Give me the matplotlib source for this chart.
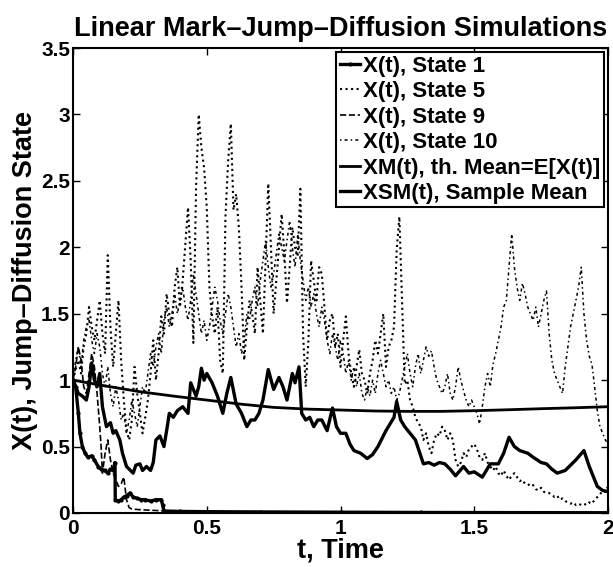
import numpy as np
import matplotlib.pyplot as plt

# time grid used for the two dense dotted states (0.01 steps)
t_grid = np.round(np.arange(0, 2.001, 0.01), 2)

# X(t), State 5 (dotted), read every 0.01
state5 = [
    1.00, 1.08, 1.15, 1.05, 1.25, 1.35, 1.55, 1.40, 1.30, 1.45,
    1.60, 1.35, 1.20, 1.94, 1.40, 1.10, 1.35, 1.60, 1.15, 0.85,
    0.62, 0.55, 0.70, 1.10, 0.90, 0.75, 0.60, 0.72, 0.85, 1.05,
    1.30, 1.00, 1.20, 1.48, 1.35, 1.65, 1.50, 1.40, 1.70, 1.85,
    1.55, 1.75, 2.03, 2.30, 1.90, 1.28, 2.45, 3.00, 2.75, 2.60,
    2.30, 1.70, 1.48, 1.35, 1.55, 1.15, 1.05, 2.23, 2.65, 2.93,
    2.28, 2.40, 2.15, 1.70, 1.15, 1.40, 1.60, 1.50, 1.35, 1.85,
    1.60, 1.35, 1.90, 2.48, 2.00, 1.50, 1.75, 2.00, 2.25, 1.95,
    1.58, 1.85, 2.15, 2.00, 1.93, 2.44, 1.35, 0.95, 1.30, 1.90,
    1.75, 1.60, 1.85, 1.80, 1.55, 1.30, 1.45, 1.50, 1.25, 1.35,
    1.10, 1.30, 1.48, 1.20, 1.05, 0.95, 1.10, 1.23, 1.05, 1.00,
    0.90, 1.05, 1.15, 1.30, 1.20, 1.35, 1.50, 1.10, 1.25, 1.30,
    1.40, 1.98, 2.23, 1.60, 0.97, 1.00, 0.85, 0.80, 0.72, 0.68,
    0.65, 0.55, 0.60, 0.50, 0.45, 0.55, 0.60, 0.58, 0.65, 0.62,
    0.55, 0.60, 0.55, 0.40, 0.35, 0.38, 0.45, 0.42, 0.48, 0.50,
    0.52, 0.48, 0.42, 0.40, 0.45, 0.38, 0.35, 0.32, 0.35, 0.30,
    0.28, 0.32, 0.28, 0.25, 0.28, 0.30, 0.27, 0.24, 0.25, 0.22,
    0.22, 0.20, 0.21, 0.18, 0.17, 0.19, 0.16, 0.15, 0.15, 0.14,
    0.12, 0.13, 0.10, 0.11, 0.09, 0.08, 0.07, 0.08, 0.06, 0.07,
    0.06, 0.07, 0.06, 0.08, 0.07, 0.10, 0.12, 0.14, 0.17, 0.16,
    0.20,
]

# X(t), State 10 (dash-dot), read every 0.01
state10 = [
    1.00, 1.15, 1.25, 1.10, 1.30, 1.40, 1.45, 1.30, 1.20, 1.35,
    1.25, 1.05, 0.95, 1.10, 0.90, 0.80, 0.95, 0.85, 0.70, 0.75,
    0.60, 0.70, 0.85, 0.75, 0.65, 0.80, 0.95, 0.90, 1.05, 1.20,
    1.10, 1.25, 1.35, 1.20, 1.45, 1.55, 1.40, 1.50, 1.65, 1.50,
    1.60, 1.70, 1.55, 1.45, 1.60, 1.80, 1.65, 1.50, 1.35, 1.45,
    1.30, 1.40, 1.55, 1.70, 1.60, 1.45, 1.35, 1.50, 1.65, 1.55,
    1.40, 1.25, 1.35, 1.20, 1.30, 1.50, 1.45, 1.60, 1.70, 1.55,
    1.75, 1.90, 2.05, 1.85, 1.70, 1.80, 1.95, 2.10, 2.00, 1.90,
    2.05, 2.20, 2.00, 1.85, 2.10, 1.90, 1.75, 1.60, 1.70, 1.55,
    1.65, 1.50, 1.40, 1.55, 1.45, 1.30, 1.20, 1.35, 1.25, 1.15,
    1.30, 1.20, 1.05, 1.15, 1.00, 1.10, 0.95, 1.05, 0.90, 0.85,
    0.95, 0.88, 1.00, 0.90, 1.05, 1.15, 1.05, 0.95, 1.00, 0.90,
    0.95, 0.85, 0.90, 1.00, 1.10, 1.20, 1.05, 0.95, 1.10, 1.20,
    1.05, 1.15, 1.25, 1.18, 1.22, 1.10, 1.00, 0.95, 0.90, 0.95,
    1.05, 0.90, 0.85, 0.95, 1.10, 1.00, 0.92, 0.85, 0.80, 0.85,
    0.80, 0.75, 0.67, 0.80, 0.95, 1.05, 0.95, 1.12, 1.20, 1.30,
    1.40, 1.55, 1.60, 1.85, 2.10, 1.85, 1.70, 1.60, 1.73, 1.65,
    1.55, 1.50, 1.45, 1.55, 1.40, 1.50, 1.60, 1.67, 1.35, 1.15,
    1.05, 1.00, 0.95, 0.90, 1.10, 1.25, 1.40, 1.50, 1.60, 1.70,
    1.85, 1.50, 1.30, 1.18, 1.12, 0.95, 0.77, 0.65, 0.60, 0.55,
    0.52,
]

# X(t), State 1 (solid with points)
t_state1 = [0, 0.01, 0.02, 0.026, 0.035, 0.045, 0.055, 0.07, 0.08, 0.094,
            0.105, 0.118, 0.13, 0.14, 0.15, 0.157, 0.158, 0.17, 0.18, 0.19,
            0.2, 0.213, 0.225, 0.24, 0.256, 0.27, 0.29, 0.31, 0.33, 0.335,
            0.34, 0.4, 0.5, 0.7, 1.0, 1.3, 1.6, 2.0]
state1 = [1.0, 0.95, 0.75, 0.6, 0.5, 0.45, 0.42, 0.43, 0.4, 0.35,
          0.33, 0.32, 0.3, 0.33, 0.32, 0.38, 0.1, 0.09, 0.1, 0.12,
          0.13, 0.15, 0.12, 0.11, 0.1, 0.1, 0.09, 0.1, 0.1, 0.06,
          0.015, 0.012, 0.01, 0.008, 0.006, 0.004, 0.003, 0.002]

# X(t), State 9 (dashed)
t_state9 = [0, 0.01, 0.02, 0.03, 0.04, 0.05, 0.06, 0.07, 0.08, 0.09,
            0.10, 0.105, 0.11, 0.12, 0.13, 0.14, 0.15, 0.16, 0.17, 0.18,
            0.19, 0.20, 0.21, 0.22, 0.25, 0.30, 0.35, 0.5, 1.0, 1.5, 2.0]
state9 = [1.0, 1.1, 1.25, 1.15, 0.95, 0.9, 1.05, 1.2, 1.1, 0.9,
          0.65, 0.5, 0.3, 0.45, 0.55, 0.4, 0.3, 0.25, 0.2, 0.22,
          0.27, 0.1, 0.04, 0.03, 0.025, 0.02, 0.015, 0.005, 0.0, 0.0, 0.0]

# XM(t), theoretical mean
t_mean = [0, 0.125, 0.25, 0.375, 0.5, 0.625, 0.75, 0.875, 1.0,
          1.125, 1.25, 1.375, 1.5, 1.625, 1.75, 1.875, 2.0]
xm = [1.0, 0.955, 0.913, 0.88, 0.85, 0.82, 0.795, 0.782, 0.775,
      0.768, 0.765, 0.765, 0.77, 0.777, 0.785, 0.792, 0.80]

# XSM(t), sample mean
t_smean = [0, 0.01, 0.02, 0.035, 0.05, 0.06, 0.07, 0.08, 0.09, 0.10,
           0.11, 0.118, 0.125, 0.14, 0.15, 0.16, 0.175, 0.185, 0.2, 0.21,
           0.225, 0.235, 0.25, 0.26, 0.275, 0.29, 0.30, 0.31, 0.325, 0.34,
           0.35, 0.36, 0.375, 0.39, 0.41, 0.43, 0.44, 0.46, 0.47, 0.48,
           0.49, 0.5, 0.52, 0.54, 0.56, 0.575, 0.59, 0.61, 0.63, 0.65,
           0.665, 0.68, 0.695, 0.71, 0.73, 0.75, 0.77, 0.785, 0.80, 0.82,
           0.83, 0.845, 0.855, 0.87, 0.885, 0.90, 0.915, 0.93, 0.95, 0.97,
           0.985, 1.0, 1.02, 1.035, 1.05, 1.075, 1.1, 1.12, 1.14, 1.17,
           1.2, 1.21, 1.225, 1.24, 1.26, 1.28, 1.31, 1.33, 1.35, 1.37,
           1.39, 1.41, 1.43, 1.46, 1.48, 1.5, 1.53, 1.56, 1.59, 1.61,
           1.63, 1.65, 1.67, 1.7, 1.72, 1.75, 1.77, 1.79, 1.81, 1.84,
           1.86, 1.88, 1.91, 1.93, 1.95, 1.96, 1.98, 2.0]
xsm = [1.0, 0.95, 0.9, 0.88, 0.85, 0.95, 1.13, 1.0, 0.95, 1.05,
       0.8, 0.72, 0.65, 0.68, 0.6, 0.62, 0.55, 0.45, 0.35, 0.33,
       0.3, 0.36, 0.37, 0.32, 0.35, 0.32, 0.38, 0.55, 0.58, 0.5,
       0.62, 0.75, 0.72, 0.77, 0.8, 0.75, 0.98, 0.88, 0.95, 1.09,
       1.0, 1.05, 0.98, 0.88, 0.75, 0.9, 1.02, 0.82, 0.75, 0.65,
       0.7, 0.7, 0.75, 0.85, 1.08, 0.93, 1.02, 0.95, 0.85, 1.05,
       0.98, 1.1, 0.75, 0.7, 0.72, 0.65, 0.7, 0.7, 0.62, 0.79,
       0.65, 0.6, 0.6, 0.52, 0.47, 0.45, 0.41, 0.44, 0.5, 0.62,
       0.72, 0.84, 0.7, 0.65, 0.6, 0.55, 0.37, 0.38, 0.36, 0.38,
       0.37, 0.33, 0.28, 0.35, 0.3, 0.31, 0.27, 0.37, 0.37, 0.45,
       0.57, 0.5, 0.47, 0.45, 0.42, 0.38, 0.37, 0.33, 0.3, 0.32,
       0.36, 0.4, 0.47, 0.35, 0.25, 0.2, 0.17, 0.16]

plt.rcParams['font.family'] = ['Liberation Sans', 'DejaVu Sans']
plt.rcParams['font.weight'] = 'bold'
plt.rcParams['axes.labelweight'] = 'bold'
plt.rcParams['axes.titleweight'] = 'bold'

fig = plt.figure(figsize=(6.13, 5.67), dpi=100)
ax = fig.add_axes([73 / 613, 1 - 513 / 567, 535 / 613, 465 / 567])

ax.plot(t_state1, state1, '.-', color='k', lw=2.4, ms=4, label='X(t), State 1')
ax.plot(t_grid, state5, ':', color='k', lw=1.5, label='X(t), State 5')
ax.plot(t_state9, state9, '--', color='k', lw=1.2, label='X(t), State 9')
ax.plot(t_grid, state10, '-.', color='k', lw=1.1, dashes=(1, 2, 2, 2),
        label='X(t), State 10')
ax.plot(t_mean, xm, '-', color='k', lw=2.0, label='XM(t), th. Mean=E[X(t)]')
ax.plot(t_smean, xsm, '-', color='k', lw=2.4, label='XSM(t), Sample Mean')

ax.set_xlim(0, 2)
ax.set_ylim(0, 3.5)
ax.set_xticks([0, 0.5, 1, 1.5, 2])
ax.set_xticklabels(['0', '0.5', '1', '1.5', '2'])
ax.set_yticks(np.arange(0, 3.51, 0.5))
ax.set_yticklabels(['0', '0.5', '1', '1.5', '2', '2.5', '3', '3.5'])
ax.tick_params(direction='in', top=True, right=True, length=5, width=1,
               labelsize=15)
ax.tick_params(axis='x', pad=4)
ax.tick_params(axis='y', pad=2)
for s in ax.spines.values():
    s.set_linewidth(1.5)

ax.set_title('Linear Mark\u2013Jump\u2013Diffusion Simulations', fontsize=19.5, pad=9)
ax.set_xlabel('t, Time', fontsize=19.5, labelpad=0)
ax.set_ylabel('X(t), Jump\u2013Diffusion State', fontsize=19.5, labelpad=2)

leg = ax.legend(loc='upper right', fontsize=16, handlelength=0.9,
                handletextpad=0.15, labelspacing=0.2, borderpad=0.15,
                borderaxespad=0.2, fancybox=False, framealpha=1)
leg.get_frame().set_edgecolor('k')
leg.get_frame().set_linewidth(1.5)

fig.savefig('out.png', dpi=100)
